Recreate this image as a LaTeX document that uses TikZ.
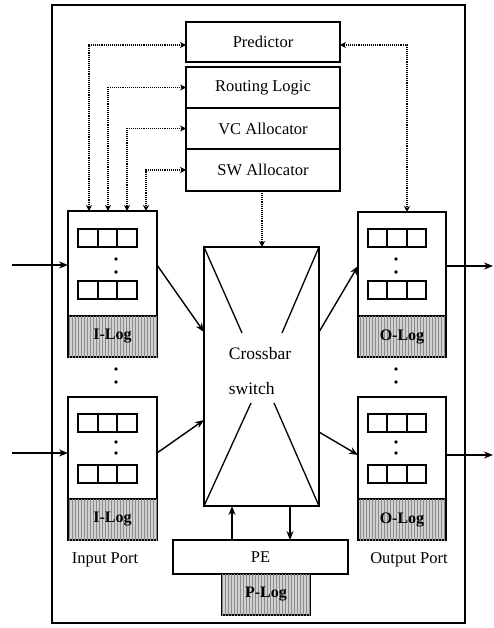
\documentclass[tikz,border=0pt]{standalone}
\usepackage{fontspec}
\setmainfont{Liberation Serif}
\usetikzlibrary{arrows.meta,patterns}
\begin{document}
\begin{tikzpicture}[x=1pt,y=-1pt,
  box/.style={draw, line width=1.4pt, inner sep=0pt, outer sep=0pt, anchor=north west},
  lbl/.style={font=\fontsize{16.5}{18}\selectfont},
  logbox/.style={draw, line width=1.4pt, inner sep=0pt, outer sep=0pt, anchor=north west,
    fill=black!18, postaction={pattern=vertical lines, pattern color=black!45},
    font=\bfseries\fontsize{16}{16}\selectfont},
  cell/.style={draw, line width=1.8pt},
  arr/.style={line width=1.4pt, -{Stealth[length=9pt,width=7pt]}},
  darr/.style={line width=1.1pt, densely dotted, {Stealth[length=6pt,width=6pt]}-{Stealth[length=6pt,width=6pt]}},
  sarr/.style={line width=1.1pt, densely dotted, -{Stealth[length=6pt,width=6pt]}},
  dot/.style={fill=black, draw=none}
]
\useasboundingbox (0,0) rectangle (494,628);
% outer frame
\node[box, minimum width=413pt, minimum height=618pt] (frame) at (52,5) {};
% control blocks
\node[box, lbl, minimum width=154pt, minimum height=40pt] (pred) at (186,22) {Predictor};
\node[box, lbl, minimum width=154pt, minimum height=41pt] (rout) at (186,67) {Routing Logic};
\node[box, lbl, minimum width=154pt, minimum height=41pt] (vc) at (186,108) {VC Allocator};
\node[box, lbl, minimum width=154pt, minimum height=42pt] (sw) at (186,149) {SW Allocator};
% ports
\node[box, minimum width=89pt, minimum height=146pt] (ip1) at (68,211) {};
\node[box, minimum width=89pt, minimum height=143pt] (ip2) at (68,397) {};
\node[box, minimum width=88pt, minimum height=145pt] (op1) at (358,212) {};
\node[box, minimum width=88pt, minimum height=143pt] (op2) at (358,397) {};
\node[logbox, minimum width=89pt, minimum height=41pt] (il1) at (68,316) {I-Log};
\node[logbox, minimum width=89pt, minimum height=41pt] (il2) at (68,499) {I-Log};
\node[logbox, minimum width=88pt, minimum height=41pt] (ol1) at (358,316) {O-Log};
\node[logbox, minimum width=88pt, minimum height=41pt] (ol2) at (358,499) {O-Log};
% buffer rows
\foreach \y in {229,281,414,465} {
  \draw[cell] (78,\y) rectangle (98,\y+18) (98,\y) rectangle (117,\y+18) (117,\y) rectangle (137,\y+18);
  \draw[cell] (368,\y) rectangle (387,\y+18) (387,\y) rectangle (407,\y+18) (407,\y) rectangle (426,\y+18);
}
% dots
\foreach \y in {259,272,442,453,369,382} {
  \fill[dot] (116,\y) circle (1.9pt);
  \fill[dot] (396,\y) circle (1.9pt);
}
% crossbar
\node[box, minimum width=115pt, minimum height=259pt] (cb) at (204,247) {};
\draw[line width=1.3pt] (cb.north west) -- (242,333);
\draw[line width=1.3pt] (cb.north east) -- (282,333);
\draw[line width=1.3pt] (cb.south west) -- (251,403);
\draw[line width=1.3pt] (cb.south east) -- (274,403);
\node[align=left, font=\fontsize{17.5}{35}\selectfont] (cbt) at (260,371) {Crossbar\\switch};
% PE
\node[box, lbl, minimum width=175pt, minimum height=34pt] (pe) at (173,540) {PE};
\node[logbox, minimum width=88pt, minimum height=41pt] (pl) at (222,574) {P-Log};
% port labels
\node[lbl] (iplab) at (105,560) {Input Port};
\node[lbl] (oplab) at (409,560) {Output Port};
% external I/O
\coordinate (in1) at (12,265);
\coordinate (in2) at (12,453);
\coordinate (out1) at (493,266);
\coordinate (out2) at (493,455);
\draw[arr] (in1) -- (ip1.west |- in1);
\draw[arr] (in2) -- (ip2.west |- in2);
\draw[arr] (op1.east |- out1) -- (out1);
\draw[arr] (op2.east |- out2) -- (out2);
% port <-> crossbar
\draw[arr] (ip1.east |- in1) -- (cb.west |- 0,332);
\draw[arr] (ip2.east |- in2) -- (cb.west |- 0,420);
\draw[arr] (cb.east |- 0,332) -- (op1.west |- out1);
\draw[arr] (cb.east |- 0,432) -- (op2.west |- out2);
% PE <-> crossbar
\draw[arr] (pe.north -| 232,0) -- (cb.south -| 232,0);
\draw[arr] (cb.south -| 290,0) -- (pe.north -| 290,0);
% dotted control
\draw[darr] (pred.west |- 0,45) -| (89,0 |- ip1.north);
\draw[darr] (rout.west) -| (108,0 |- ip1.north);
\draw[darr] (vc.west) -| (127,0 |- ip1.north);
\draw[darr] (sw.west) -| (146,0 |- ip1.north);
\draw[darr] (pred.east |- 0,45) -| (407,0 |- op1.north);
\draw[sarr] (sw.south -| 262,0) -- (cb.north -| 262,0);
\end{tikzpicture}
\end{document}
